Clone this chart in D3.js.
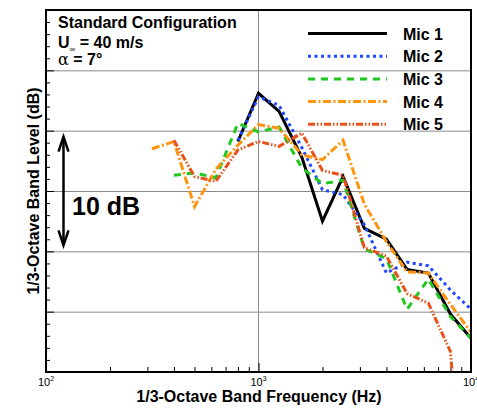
<!DOCTYPE html>
<html>
<head>
<meta charset="utf-8">
<script src="https://cdn.jsdelivr.net/npm/d3@7"></script>
<style>
    body { margin: 0; background: #fff; }
    svg { font-family: "Liberation Sans", Arial, sans-serif; }
</style>
</head>
<body>
<div id="graph"></div>
<script>
// 1/3-octave band centre frequencies (Hz)
const freqs = [315, 400, 500, 630, 800, 1000, 1250, 1600, 2000, 2500, 3150, 4000, 5000, 6300, 8000, 10000];

// band levels (dB), null where a mic has no band
const mic1 = [null, null, null, null, 59.1, 63.1, 61.6, 57.8, 52.5, 56.2, 51.9, 51.0, 48.5, 48.2, 44.8, 42.8];
const mic2 = [null, null, null, null, 59.2, 62.8, 62.1, 58.6, 55.1, 54.7, 52.2, 48.2, 49.1, 48.8, 46.8, 45.2];
const mic3 = [null, 56.3, 56.5, 56.1, 60.6, 59.9, 60.3, 56.9, 55.6, 55.9, 50.2, 49.4, 45.2, 47.7, 44.6, 42.8];
const mic4 = [58.5, 59.1, 53.7, 56.8, 58.8, 60.5, 60.2, 58.0, 57.6, 59.2, 53.9, 50.8, 48.3, 48.2, 45.6, 43.3];
const mic5 = [null, 59.2, 56.2, 55.8, 58.4, 59.1, 58.7, 59.8, 56.7, 56.3, 50.3, 49.6, 46.5, 45.7, 41.7, 22.0];

const seriesNames = ["Mic 1", "Mic 2", "Mic 3", "Mic 4", "Mic 5"];
const xTickExps = [2, 3, 4];
const scaleBar = [50, 60];   // the "10 dB" marker

const width = 477, height = 409;
const plot = { left: 46, top: 10, right: 471, bottom: 372 };

const styles = [
    { color: "#000000", dash: null },
    { color: "#1f48ff", dash: "3,3.5" },
    { color: "#1ec81e", dash: "7,6" },
    { color: "#ff9410", dash: "8,2.5,2,2.5" },
    { color: "#e8521a", dash: "7,2,1.5,2,1.5,2" }
];

const svg = d3.select("#graph")
    .append("svg")
    .attr("width", width)
    .attr("height", height);

const xScale = d3.scaleLog().domain([100, 10000]).range([plot.left, plot.right]);
const yScale = d3.scaleLinear().domain([40, 70]).range([plot.bottom, plot.top]);

// grid
const majorY = d3.range(40, 71, 5);
const minorY = d3.range(40, 71, 1).filter(d => d % 5 !== 0);
const minorX = [200, 300, 400, 500, 600, 700, 800, 900, 2000, 3000, 4000, 5000, 6000, 7000, 8000, 9000];

svg.append("g")
    .attr("class", "grid")
    .attr("transform", "translate(" + plot.left + ",0)")
    .call(d3.axisLeft(yScale).tickValues(majorY.slice(1, -1)).tickSize(-(plot.right - plot.left)).tickFormat(""))
    .call(g => g.select(".domain").remove())
    .selectAll("line").attr("stroke", "#8a8a8a").attr("stroke-width", 1);

svg.append("line")
    .attr("x1", xScale(1000)).attr("x2", xScale(1000))
    .attr("y1", plot.top).attr("y2", plot.bottom)
    .attr("stroke", "#8a8a8a").attr("stroke-width", 1);

// inward ticks on left and bottom
const leftTicks = svg.append("g").attr("transform", "translate(" + plot.left + ",0)");
leftTicks.append("g")
    .call(d3.axisLeft(yScale).tickValues(majorY).tickSize(-8).tickFormat(""));
leftTicks.append("g")
    .call(d3.axisLeft(yScale).tickValues(minorY).tickSize(-4).tickFormat(""));
leftTicks.selectAll(".domain").remove();
leftTicks.selectAll("line").attr("stroke", "#000").attr("stroke-width", 1);

const bottomTicks = svg.append("g").attr("transform", "translate(0," + plot.bottom + ")");
bottomTicks.append("g")
    .call(d3.axisBottom(xScale).tickValues([1000]).tickSize(-9).tickFormat(""));
bottomTicks.append("g")
    .call(d3.axisBottom(xScale).tickValues(minorX).tickSize(-5).tickFormat(""));
bottomTicks.selectAll(".domain").remove();
bottomTicks.selectAll("line").attr("stroke", "#000").attr("stroke-width", 1);

// x tick labels as powers of ten
const xLabels = svg.append("g").attr("font-size", 11);
xTickExps.forEach(e => {
    const t = xLabels.append("text")
        .attr("x", xScale(Math.pow(10, e)))
        .attr("y", plot.bottom + 14)
        .attr("text-anchor", "middle");
    t.append("tspan").text("10");
    t.append("tspan").attr("font-size", 7).attr("dy", -5).text(e);
});

// data lines
svg.append("clipPath").attr("id", "plot-clip")
    .append("rect")
    .attr("x", plot.left).attr("y", plot.top)
    .attr("width", plot.right - plot.left).attr("height", plot.bottom - plot.top);

const line = d3.line()
    .defined(d => d.value !== null)
    .x(d => xScale(d.freq))
    .y(d => yScale(d.value));

const lines = svg.append("g").attr("clip-path", "url(#plot-clip)");
[mic1, mic2, mic3, mic4, mic5].forEach((values, i) => {
    const points = freqs.map((f, j) => ({ freq: f, value: values[j] }));
    lines.append("path")
        .datum(points)
        .attr("fill", "none")
        .attr("stroke", styles[i].color)
        .attr("stroke-width", 3)
        .attr("stroke-dasharray", styles[i].dash)
        .attr("stroke-linejoin", "miter")
        .attr("d", line);
});

// legend
const legend = svg.append("g").attr("font-size", 16).attr("font-weight", "bold");
seriesNames.forEach((name, i) => {
    const y = 33.5 + i * 22.7;
    legend.append("line")
        .attr("x1", 308).attr("x2", 387)
        .attr("y1", y).attr("y2", y)
        .attr("stroke", styles[i].color)
        .attr("stroke-width", 3)
        .attr("stroke-dasharray", styles[i].dash);
    legend.append("text")
        .attr("x", 403).attr("y", y + 6)
        .text(name);
});

// configuration note
const note = svg.append("g").attr("font-size", 16).attr("font-weight", "bold");
note.append("text").attr("x", 58).attr("y", 28).text("Standard Configuration");
const u = note.append("text").attr("x", 58).attr("y", 47.5);
u.append("tspan").text("U");
u.append("tspan").attr("font-size", 8).attr("font-weight", "normal").attr("dy", 4).text("\u221E");
u.append("tspan").attr("dy", -4).text(" = 40 m/s");
const a = note.append("text").attr("x", 58).attr("y", 65);
a.append("tspan").attr("font-weight", "normal").attr("font-family", "DejaVu Serif, serif").text("\u03B1");
a.append("tspan").text(" = 7\u00B0");

// 10 dB scale arrow
const arrowX = 63.5, inset = 6;
const yTop = yScale(scaleBar[1]) + inset, yBot = yScale(scaleBar[0]) - inset;
const arrow = svg.append("g").attr("stroke", "#000").attr("fill", "none")
    .attr("stroke-width", 2.5).attr("stroke-linejoin", "miter");
arrow.append("line").attr("x1", arrowX).attr("x2", arrowX).attr("y1", yTop + 1).attr("y2", yBot - 1);
arrow.append("path").attr("d", `M${arrowX - 5},${yTop + 15}L${arrowX},${yTop}L${arrowX + 5},${yTop + 15}`);
arrow.append("path").attr("d", `M${arrowX - 5},${yBot - 15}L${arrowX},${yBot}L${arrowX + 5},${yBot - 15}`);
svg.append("text")
    .attr("x", 72).attr("y", 215)
    .attr("font-size", 25).attr("font-weight", "bold")
    .text((scaleBar[1] - scaleBar[0]) + " dB");

// frame
svg.append("rect")
    .attr("x", plot.left).attr("y", plot.top)
    .attr("width", plot.right - plot.left).attr("height", plot.bottom - plot.top)
    .attr("fill", "none").attr("stroke", "#000").attr("stroke-width", 2);

// axis titles
svg.append("text")
    .attr("x", 259).attr("y", 402)
    .attr("text-anchor", "middle").attr("font-size", 16).attr("font-weight", "bold")
    .text("1/3-Octave Band Frequency (Hz)");
svg.append("text")
    .attr("transform", "translate(39," + (plot.top + plot.bottom) / 2 + ") rotate(-90)")
    .attr("text-anchor", "middle").attr("font-size", 16).attr("font-weight", "bold")
    .text("1/3-Octave Band Level (dB)");
</script>
</body>
</html>
